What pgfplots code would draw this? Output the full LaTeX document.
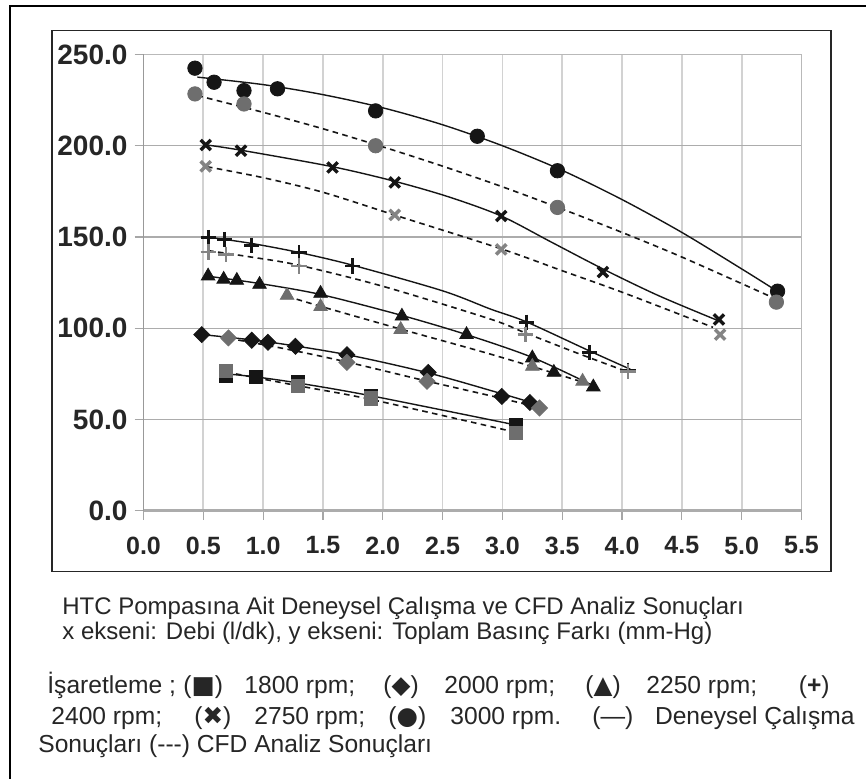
\documentclass[border=0pt]{standalone}
\usepackage{pgfplots}
\pgfplotsset{compat=1.18}
\usepackage{fontspec}
\setmainfont{Liberation Sans}
\newfontfamily\symfont{DejaVu Sans}
\definecolor{expc}{HTML}{151515}
\definecolor{cfdc}{HTML}{6E6E6E}
\begin{document}
\begin{tikzpicture}
\path[use as bounding box] (0,0) rectangle (433pt,389pt);
\fill[white] (0,0) rectangle (433pt,389pt);
\draw[black, line width=1.3pt] (5pt,-5pt) -- (5pt,386pt) -- (440pt,386pt);
\draw[black!85, line width=0.6pt] (26pt,103.15pt) rectangle (415.5pt,373.65pt);
\begin{axis}[
  at={(71.75pt,133.65pt)}, anchor=south west,
  scale only axis, width=329pt, height=228.1pt,
  xmin=0, xmax=5.5, ymin=0, ymax=250,
  xtick={0,0.5,1,1.5,2,2.5,3,3.5,4,4.5,5,5.5},
  ytick={0,50,100,150,200,250},
  xtick pos=bottom, ytick pos=left,
  tick align=outside, major tick length=4.5pt,
  tick style={gray!70, line width=0.6pt},
  grid=major,
  x grid style={gray!35, line width=0.9pt},
  y grid style={gray!65, line width=0.6pt},
  axis line style={draw=gray!55, line width=0.6pt},
  /pgf/number format/.cd, fixed, fixed zerofill, precision=1, assume math mode=true,
  /pgfplots/.cd,
  yticklabel style={font=\bfseries\fontsize{14}{14}\selectfont, color=black!85},
  xticklabel style={font=\bfseries\fontsize{12.5}{12.5}\selectfont, color=black!85, yshift=-5pt},
  clip=false,
]
\draw[gray!65, line width=1.6pt] (axis cs:0,0) -- (axis cs:5.5,0);
\draw[gray!80, line width=0.7pt] (axis cs:0,0) -- (axis cs:0,250);

% ---------- trend lines: experimental (solid) ----------
\addplot[expc, line width=0.7pt, smooth] coordinates {(0.45,237.6)(1.0,233.5)(1.5,228)(2.0,220.8)(2.5,211.5)(3.0,200)(3.5,186.5)(4.0,170.5)(4.5,152.5)(5.0,132.5)(5.28,121)};
\addplot[expc, line width=0.7pt, smooth] coordinates {(0.52,200.5)(0.82,197.5)(1.58,188.5)(2.10,180.5)(2.55,172)(2.99,161.5)(3.4,147.5)(3.84,132.5)(4.3,118)(4.79,104.5)};
\addplot[expc, line width=0.7pt, smooth] coordinates {(0.53,150)(0.9,146.5)(1.3,141.5)(1.75,134.5)(2.5,120.5)(2.9,110.5)(3.2,103.5)(3.73,87.5)(4.07,77.5)};
\addplot[expc, line width=0.7pt, smooth] coordinates {(0.54,128.5)(0.97,124.5)(1.48,118.5)(2.16,107)(2.70,96.5)(3.25,84)(3.76,68.5)};
\addplot[expc, line width=0.7pt, smooth] coordinates {(0.49,96.5)(1.04,92.5)(1.70,85.5)(2.38,75.5)(3.0,64)(3.23,59.5)};
\addplot[expc, line width=0.7pt, smooth] coordinates {(0.69,75)(0.94,73.3)(1.29,70)(1.90,63)(3.11,47)};

% ---------- trend lines: CFD (dashed) ----------
\addplot[expc, line width=0.8pt, dash pattern=on 2.8pt off 2.2pt, smooth] coordinates {(0.45,227.5)(1.0,218.3)(1.5,209.3)(2.0,199.4)(2.5,188.8)(3.0,177.5)(3.5,165.3)(4.0,152.5)(4.5,139.0)(5.27,116.5)};
\addplot[expc, line width=0.8pt, dash pattern=on 2.8pt off 2.2pt, smooth] coordinates {(0.53,188.5)(1.0,182.5)(1.5,174.5)(2.10,162)(2.99,143.5)(3.5,131.5)(4.01,119.5)(4.76,100.5)};
\addplot[expc, line width=0.8pt, dash pattern=on 2.8pt off 2.2pt, smooth] coordinates {(0.54,142.5)(0.9,139)(1.3,134.5)(2.0,123)(2.9,105)(3.19,97.5)(3.6,87)(4.05,76)};
\addplot[expc, line width=0.8pt, dash pattern=on 2.8pt off 2.2pt, smooth] coordinates {(1.2,117.5)(1.48,112)(2.15,99.5)(2.81,87.5)(3.25,79)(3.67,70.5)};
\addplot[expc, line width=0.8pt, dash pattern=on 2.8pt off 2.2pt, smooth] coordinates {(0.71,94.5)(1.2,88.5)(1.70,81.5)(2.37,71)(2.9,63)(3.31,56.5)};
\addplot[expc, line width=0.8pt, dash pattern=on 2.8pt off 2.2pt, smooth] coordinates {(0.69,76)(1.29,68.5)(1.90,61)(3.11,43)};

% ---------- markers: experimental ----------
\addplot[only marks, mark=*, mark size=3.6pt, color=expc] coordinates {(0.43,242.5)(0.59,234.8)(0.84,230.2)(1.12,231.2)(1.94,219.1)(2.79,205.2)(3.46,186.3)(5.30,120.3)};
\addplot[only marks, mark=x, mark size=3.6pt, color=expc, mark options={line width=1.7pt}] coordinates {(0.52,200.4)(0.815,197.3)(1.58,188.1)(2.10,179.9)(2.99,161.5)(3.84,130.8)(4.81,104.8)};
\addplot[only marks, mark=+, mark size=3.8pt, color=expc, mark options={line width=1.4pt}] coordinates {(0.54,149.7)(0.68,148.7)(0.905,145.4)(1.30,141.4)(1.75,134.1)(3.20,103.3)(3.73,86.5)(4.05,77)};
\addplot[only marks, mark=triangle*, mark size=3.9pt, color=expc] coordinates {(0.54,128.6)(0.67,126.8)(0.78,126.2)(0.97,124.0)(1.48,119.1)(2.16,106.6)(2.70,96.5)(3.25,83.7)(3.43,75.8)(3.76,67.8)};
\addplot[only marks, mark=diamond*, mark size=4pt, color=expc, mark options={xscale=1.33}] coordinates {(0.487,96.5)(0.905,93.4)(1.04,92.3)(1.27,90.1)(1.70,85.5)(2.38,75.8)(2.995,62.6)(3.23,59.3)};
\addplot[only marks, mark=square*, mark size=3.3pt, color=expc] coordinates {(0.69,74)(0.94,73.3)(1.29,70.5)(1.90,63)(3.11,47.1)};

% ---------- markers: CFD ----------
\addplot[only marks, mark=*, mark size=3.6pt, color=cfdc] coordinates {(0.43,228.4)(0.84,222.9)(1.94,200.0)(3.46,166.2)(5.29,114.3)};
\addplot[only marks, mark=x, mark size=3.6pt, color=cfdc!85, mark options={line width=1.7pt}] coordinates {(0.52,188.7)(2.10,162.1)(2.99,143.2)(4.82,96.5)};
\addplot[only marks, mark=+, mark size=3.8pt, color=cfdc!85, mark options={line width=1.4pt}] coordinates {(0.54,141.8)(0.69,140.5)(1.30,134.1)(3.19,96.5)(4.05,76.4)};
\addplot[only marks, mark=triangle*, mark size=3.9pt, color=cfdc] coordinates {(1.20,118.0)(1.48,111.8)(2.15,99.3)(3.25,79.1)(3.67,70.9)};
\addplot[only marks, mark=diamond*, mark size=4pt, color=cfdc, mark options={xscale=1.33}] coordinates {(0.71,94.7)(1.70,81.3)(2.37,70.9)(3.31,56.3)};
\addplot[only marks, mark=square*, mark size=3.3pt, color=cfdc] coordinates {(0.69,76.5)(1.29,68.5)(1.90,61.5)(3.11,42.5)};
\end{axis}

\begin{scope}[every node/.style={anchor=base west, inner sep=0pt, font=\fontsize{12}{14}\selectfont, text=black!85}]
\node at (31pt,82pt) {HTC Pompasına Ait Deneysel Çalışma ve CFD Analiz Sonuçları};
\node at (31pt,69.5pt) {x ekseni: Debi (l/dk), y ekseni: Toplam Basınç Farkı (mm-Hg)};
\end{scope}
\begin{scope}[every node/.style={anchor=base west, inner sep=0pt, font=\fontsize{12.3}{14}\selectfont, text=black!85}]
% line 3 (baseline 693 px)
\node at (23.5pt,42.5pt) {İşaretleme ;};
\node at (91.5pt,42.5pt) {({\symfont ■})};
\node at (122pt,42.5pt) {1800 rpm;};
\node at (191.5pt,42.5pt) {({\symfont ◆})};
\node at (222pt,42.5pt) {2000 rpm;};
\node at (292.5pt,42.5pt) {({\symfont ▲})};
\node at (323pt,42.5pt) {2250 rpm;};
\node[anchor=base east] at (415pt,42.5pt) {(\textbf{+})};
% line 4 (baseline 724 px)
\node at (25.5pt,27pt) {2400 rpm;};
\node at (97pt,27pt) {({\symfont ✖})};
\node at (127pt,27pt) {2750 rpm;};
\node at (194pt,27pt) {({\symfont ●})};
\node at (225pt,27pt) {3000 rpm.};
\node at (296pt,27pt) {(—)};
\node[anchor=base east] at (427.5pt,27pt) {Deneysel Çalışma};
% line 5 (baseline 752 px)
\node at (19pt,13pt) {Sonuçları (-{}-{}-) CFD Analiz Sonuçları};
\end{scope}
\end{tikzpicture}
\end{document}
